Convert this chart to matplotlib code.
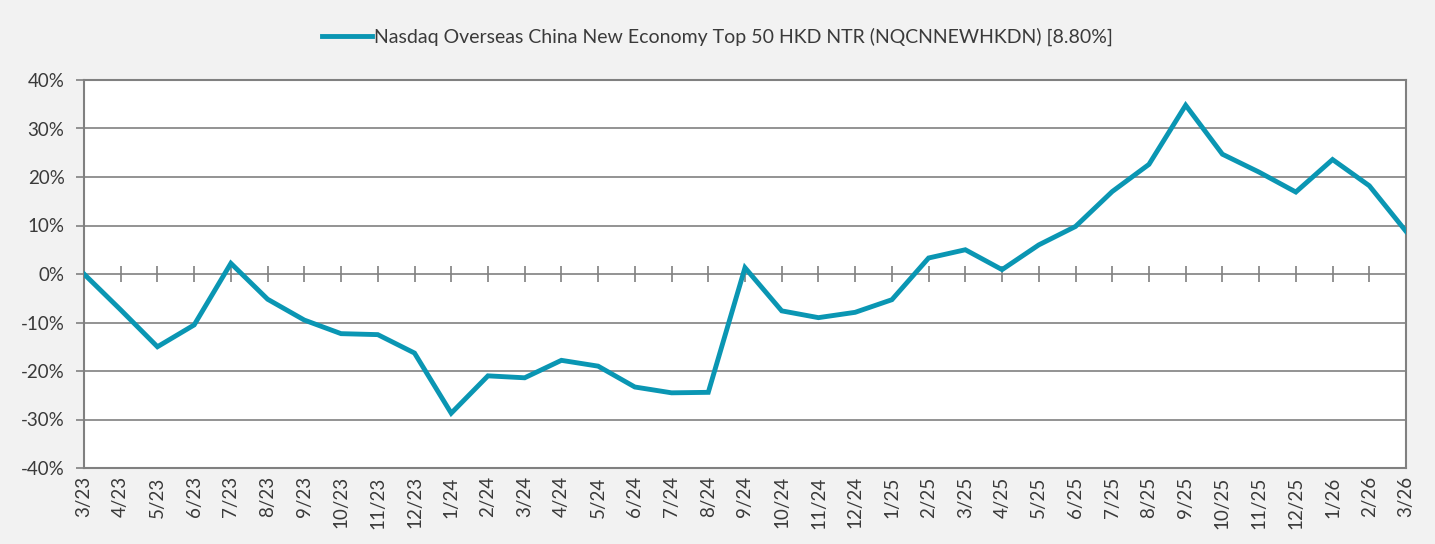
import numpy as np
import matplotlib.pyplot as plt
from matplotlib.ticker import FuncFormatter

plt.rcParams['font.family'] = ['Lato', 'DejaVu Sans']

months = ["3/23", "4/23", "5/23", "6/23", "7/23", "8/23", "9/23", "10/23", "11/23", "12/23",
          "1/24", "2/24", "3/24", "4/24", "5/24", "6/24", "7/24", "8/24", "9/24", "10/24",
          "11/24", "12/24", "1/25", "2/25", "3/25", "4/25", "5/25", "6/25", "7/25", "8/25",
          "9/25", "10/25", "11/25", "12/25", "1/26", "2/26", "3/26"]
returns = [0.0, -7.4, -15.0, -10.5, 2.2, -5.2, -9.5, -12.3, -12.5, -16.3,
           -28.7, -21.0, -21.4, -17.8, -19.0, -23.3, -24.5, -24.4, 1.3, -7.6,
           -9.0, -7.9, -5.3, 3.3, 5.0, 0.9, 6.0, 9.8, 17.0, 22.6,
           34.8, 24.7, 21.0, 16.9, 23.6, 18.2, 8.8]
series_name = "Nasdaq Overseas China New Economy Top 50 HKD NTR (NQCNNEWHKDN) [8.80%]"

grey = "#808080"
text_col = "#3a3a3a"

fig = plt.figure(figsize=(14.35, 5.44), dpi=100, facecolor="#f2f2f2")
ax = fig.add_axes([84 / 1435, 1 - 468 / 544, (1406 - 84) / 1435, (468 - 80) / 544])
ax.set_facecolor("white")

x = np.arange(len(months))
ax.plot(x, returns, color="#0a96b3", linewidth=3.5, label=series_name, zorder=3,
        solid_joinstyle="miter")

# small ticks crossing the zero line
ax.plot(x[1:-1], np.zeros(len(x) - 2), linestyle="none", marker="|", markersize=12,
        markeredgewidth=1.2, color=grey, zorder=2)

ax.set_xlim(0, len(months) - 1)
ax.set_ylim(-40, 40)
ax.set_yticks(np.arange(-40, 41, 10))
ax.yaxis.set_major_formatter(FuncFormatter(lambda v, p: f"{v:.0f}%"))
ax.grid(axis="y", color=grey, linewidth=1.2)
ax.set_axisbelow(True)

ax.set_xticks(x)
ax.set_xticklabels(months, rotation=90)
ax.tick_params(axis="x", length=0, pad=6, labelsize=13.5, colors=text_col)
ax.tick_params(axis="y", length=6, width=1.2, color=grey, pad=8, labelsize=13.5,
               labelcolor=text_col)

for s in ax.spines.values():
    s.set_color(grey)
    s.set_linewidth(1.5)

fig.legend(loc="center", bbox_to_anchor=(0.5, 1 - 37 / 544), frameon=False,
           fontsize=14, handlelength=2.6, handletextpad=0.1, labelcolor=text_col)

fig.savefig("out.png", dpi=100, facecolor=fig.get_facecolor())
